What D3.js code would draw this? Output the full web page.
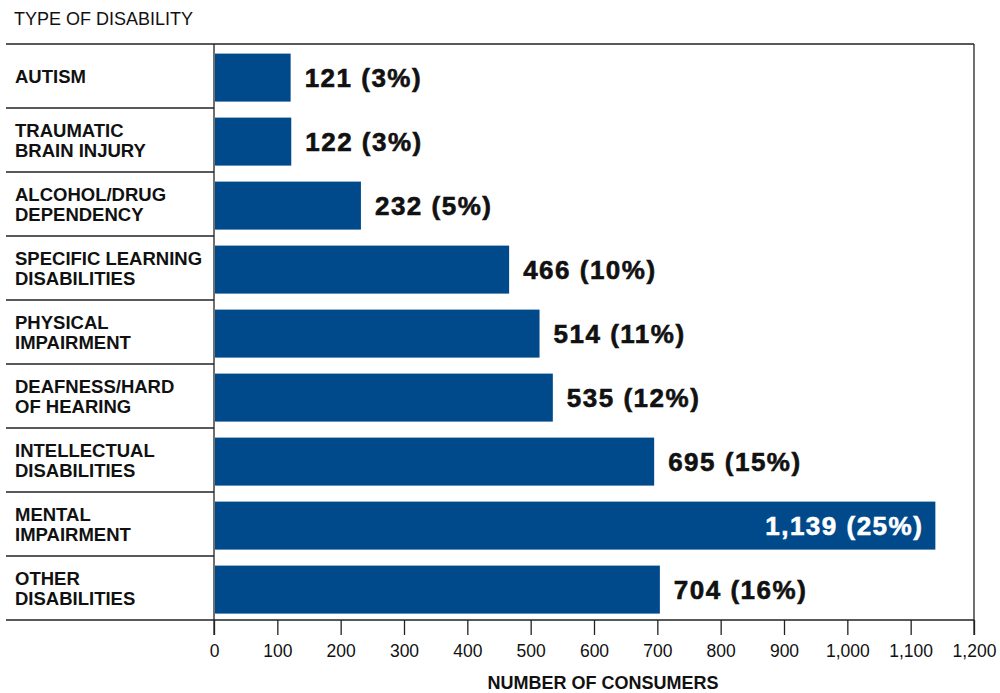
<!DOCTYPE html>
<html>
<head>
<meta charset="utf-8">
<script src="https://cdn.jsdelivr.net/npm/d3@7"></script>
<style>
  body { margin: 0; background: #fff; }
  svg { font-family: "Liberation Sans", Arial, Helvetica, sans-serif; }
</style>
</head>
<body>
<div id="chart"></div>
<script>
// dati
const categories = [
  "AUTISM|",
  "TRAUMATIC|BRAIN INJURY",
  "ALCOHOL/DRUG|DEPENDENCY",
  "SPECIFIC LEARNING|DISABILITIES",
  "PHYSICAL|IMPAIRMENT",
  "DEAFNESS/HARD|OF HEARING",
  "INTELLECTUAL|DISABILITIES",
  "MENTAL|IMPAIRMENT",
  "OTHER|DISABILITIES"
];
const consumers = [121, 122, 232, 466, 514, 535, 695, 1139, 704];
const percents = [3, 3, 5, 10, 11, 12, 15, 25, 16];
const xTicks = [0, 100, 200, 300, 400, 500, 600, 700, 800, 900, 1000, 1100, 1200];

const data = categories.map((c, i) => ({ name: c, value: consumers[i], pct: percents[i] }));

const W = 1000, H = 693;
const plotL = 214, plotR = 974, plotT = 44, plotB = 620;

const svg = d3.select("#chart").append("svg")
  .attr("width", W)
  .attr("height", H);

const x = d3.scaleLinear().domain([0, 1200]).range([plotL, plotR]);

// righe della tabella
const rows = d3.scaleBand().domain(categories).range([plotT, plotB]);
// barre
const y = d3.scaleBand().domain(categories).range([plotT, plotB])
  .paddingInner(0.25).paddingOuter(0.125).align(0.6);

// titolo
svg.append("text")
  .attr("x", 14).attr("y", 25)
  .attr("font-size", 18)
  .attr("fill", "#111")
  .text("TYPE OF DISABILITY");

// linee separatrici
const seps = categories.map(c => rows(c)).concat([plotB]);
svg.selectAll(".sep")
  .data(seps)
  .join("line")
  .attr("x1", 6)
  .attr("x2", (d, i) => (i === 0 || i === seps.length - 1) ? plotR : plotL)
  .attr("y1", d => d).attr("y2", d => d)
  .attr("stroke", "#222").attr("stroke-width", 1.3);

// bordo verticale
svg.append("line").attr("x1", plotL).attr("x2", plotL).attr("y1", plotT).attr("y2", plotB + 15)
  .attr("stroke", "#222").attr("stroke-width", 1.3);
svg.append("line").attr("x1", plotR).attr("x2", plotR).attr("y1", plotT).attr("y2", plotB + 15)
  .attr("stroke", "#222").attr("stroke-width", 1.3);

// etichette categorie
const cat = svg.selectAll(".cat")
  .data(categories)
  .join("text")
  .attr("class", "cat")
  .attr("x", 15)
  .attr("font-size", 18.5)
  .attr("font-weight", "bold")
  .attr("fill", "#111");

cat.each(function (d) {
  const lines = d.split("|").filter(s => s.length);
  const cy = rows(d) + rows.bandwidth() / 2;
  const t = d3.select(this);
  lines.forEach((l, i) => {
    t.append("tspan")
      .attr("x", 15)
      .attr("y", cy + (i - (lines.length - 1) / 2) * 20)
      .attr("dy", "0.36em")
      .text(l);
  });
});

// barre
svg.selectAll(".bar")
  .data(data)
  .join("rect")
  .attr("class", "bar")
  .attr("x", x(0) + 1)
  .attr("y", d => y(d.name))
  .attr("width", d => x(d.value) - x(0) - 1)
  .attr("height", y.bandwidth())
  .attr("fill", "#004a8c");

// valori
const maxV = d3.max(consumers);
svg.selectAll(".val")
  .data(data)
  .join("text")
  .attr("class", "val")
  .attr("x", d => d.value === maxV ? x(d.value) - 12 : x(d.value) + 14)
  .attr("y", d => y(d.name) + y.bandwidth() / 2)
  .attr("dy", "0.36em")
  .attr("text-anchor", d => d.value === maxV ? "end" : "start")
  .attr("font-size", 26)
  .attr("font-weight", "bold")
  .attr("letter-spacing", 1.5)
  .attr("stroke", d => d.value === maxV ? "#fff" : "#111")
  .attr("stroke-width", 0.6)
  .attr("fill", d => d.value === maxV ? "#fff" : "#111")
  .text(d => d3.format(",")(d.value) + " (" + d.pct + "%)");

// asse x
const axis = svg.append("g")
  .attr("transform", `translate(0,${plotB})`)
  .call(d3.axisBottom(x).tickValues(xTicks).tickSize(15).tickPadding(10).tickFormat(d3.format(",")));
axis.select(".domain").remove();
axis.selectAll("line").attr("stroke", "#222").attr("stroke-width", 1.3);
axis.selectAll("text")
  .attr("font-size", 17.5)
  .attr("font-family", "Liberation Sans, Arial, sans-serif")
  .attr("fill", "#111");

svg.append("text")
  .attr("x", 603).attr("y", 689)
  .attr("text-anchor", "middle")
  .attr("font-size", 18)
  .attr("font-weight", "bold")
  .attr("fill", "#111")
  .text("NUMBER OF CONSUMERS");
</script>
</body>
</html>
